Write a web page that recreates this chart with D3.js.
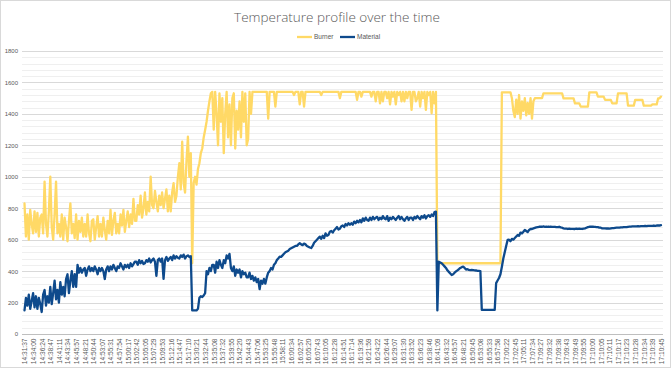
<!DOCTYPE html>
<html><head><meta charset="utf-8">
<script src="https://cdn.jsdelivr.net/npm/d3@7"></script>
<style>body{margin:0;background:#fff}svg{display:block}</style>
</head><body>
<script>
const tickLabels = [
"14:31:37","14:34:00","14:36:24","14:38:47","14:41:11","14:43:34","14:45:57","14:48:21","14:50:44","14:53:07",
"14:55:31","14:57:54","15:00:17","15:02:42","15:05:05","15:07:29","15:09:53","15:12:16","15:14:47","15:17:10",
"15:30:21","15:32:44","15:35:08","15:37:32","15:39:55","15:42:20","15:44:43","15:47:06","15:53:25","15:55:48",
"15:58:11","16:00:34","16:02:57","16:05:20","16:07:43","16:10:05","16:12:28","16:14:51","16:17:14","16:19:36",
"16:21:59","16:24:22","16:26:44","16:29:07","16:31:30","16:33:52","16:36:23","16:38:46","16:41:09","16:43:32",
"16:45:57","16:48:21","16:50:45","16:53:08","16:55:33","16:57:58","17:00:22","17:02:45","17:05:11","17:07:34",
"17:09:27","17:09:32","17:09:38","17:09:43","17:09:49","17:09:55","17:10:00","17:10:05","17:10:11","17:10:17",
"17:10:23","17:10:28","17:10:34","17:10:39","17:10:45"];

// 6 readings per labelled interval
const burner = [
830,620,760,600,790,700,
640,780,650,770,620,740,
760,640,969,700,620,780,
1001,680,600,760,969,640,
700,620,760,600,740,680,
590,720,831,640,700,610,
760,600,720,650,740,620,
700,620,760,640,590,720,
730,600,680,750,620,700,
620,740,660,600,720,640,
790,630,720,770,640,700,
640,760,690,790,650,720,
780,680,760,700,860,720,
720,820,760,880,740,800,
900,760,840,780,1001,820,
800,910,840,780,880,820,
900,800,860,920,780,880,
780,900,960,840,880,1000,
1086,920,1223,960,900,1100,
1255,1000,1150,450,960,1000,
950,1050,1086,1150,1180,1250,
1298,1350,1420,1480,1531,1540,
1300,1540,1400,1200,1531,1350,
1500,1150,1400,1540,1250,1460,
1200,1500,1531,1180,1420,1300,
1480,1250,1540,1350,1531,1200,
1240,1540,1400,1540,1540,1540,
1540,1540,1540,1540,1540,1540,
1540,1540,1370,1540,1540,1540,
1540,1446,1540,1540,1540,1540,
1540,1540,1540,1540,1540,1540,
1540,1540,1520,1540,1540,1540,
1460,1540,1540,1446,1540,1540,
1540,1540,1540,1540,1540,1540,
1540,1540,1540,1520,1540,1540,
1540,1540,1540,1540,1540,1540,
1540,1540,1540,1540,1500,1540,
1540,1540,1540,1540,1540,1540,
1540,1540,1540,1540,1489,1540,
1540,1510,1540,1540,1540,1540,
1540,1540,1510,1540,1540,1480,
1540,1540,1467,1540,1480,1540,
1540,1500,1540,1460,1540,1510,
1540,1460,1540,1520,1540,1480,
1540,1480,1540,1500,1540,1540,
1425,1540,1540,1480,1500,1540,
1446,1540,1500,1540,1425,1540,
1520,1540,1404,1540,1467,1540,
450,450,450,450,450,450,
450,450,450,450,450,450,
450,450,450,450,450,450,
450,450,450,450,450,450,
450,450,450,450,450,450,
450,450,450,450,450,450,
450,450,450,450,450,450,
450,450,450,1537,1537,1537,
1537,1537,1537,1537,1500,1420,
1380,1490,1400,1520,1370,1480,
1420,1500,1390,1470,1400,1500,
1370,1480,1500,1500,1500,1500,
1500,1500,1531,1531,1531,1531,
1531,1531,1531,1531,1531,1531,
1531,1531,1531,1531,1499,1499,
1499,1499,1499,1499,1499,1499,
1467,1467,1467,1467,1446,1446,
1446,1446,1446,1446,1537,1537,
1537,1537,1537,1537,1510,1510,
1510,1510,1510,1489,1489,1489,
1489,1489,1467,1467,1467,1467,
1531,1531,1531,1531,1531,1531,
1531,1452,1452,1452,1452,1452,
1489,1489,1489,1489,1489,1489,
1452,1452,1452,1452,1452,1452,
1460,1460,1460,1460,1499,1499,
1510];

const material = [
150,230,180,250,160,210,
260,170,240,160,230,190,
140,250,280,180,240,200,
300,190,260,340,220,280,
200,330,250,300,240,350,
380,260,340,400,300,380,
300,440,390,420,390,410,
420,370,410,430,400,420,
400,430,410,380,420,400,
420,400,350,410,430,400,
430,410,440,420,400,430,
420,450,430,410,440,425,
440,420,450,430,445,460,
460,440,470,450,465,445,
450,470,460,480,455,470,
480,460,370,470,480,460,
480,350,470,490,465,480,
490,470,500,480,495,485,
480,500,490,505,480,495,
500,490,495,150,150,150,
150,160,230,240,235,245,
260,400,380,420,400,440,
440,390,460,420,470,440,
420,470,450,500,480,510,
420,400,430,370,410,390,
410,360,400,380,390,360,
360,390,350,370,340,360,
330,350,285,340,320,350,
320,360,390,400,420,410,
440,450,470,480,492,490,
500,510,520,525,530,540,
545,550,555,560,560,570,
577,570,565,575,570,560,
555,550,547,560,580,590,
600,610,619,605,625,610,
640,625,630,650,655,645,
660,670,680,665,670,685,
690,680,700,690,705,695,
705,695,715,705,720,710,
725,710,735,720,740,725,
720,740,725,745,730,740,
745,725,740,730,750,735,
730,750,720,740,730,745,
735,725,740,750,730,745,
730,720,735,745,725,740,
740,725,745,735,750,740,
730,750,740,755,735,750,
755,745,760,750,775,778,
150,460,455,450,440,430,
420,405,395,385,375,380,
390,398,405,412,420,425,
428,420,410,412,408,406,
407,406,405,404,402,401,
400,153,153,153,153,153,
153,153,153,153,153,324,
340,356,380,428,480,520,
560,598,600,590,605,600,
610,620,630,625,645,640,
650,662,655,648,662,668,
668,672,675,678,680,682,
682,682,684,682,683,682,
682,683,682,681,682,680,
680,682,678,676,672,670,
670,668,670,668,669,668,
668,670,668,670,669,668,
670,672,676,680,682,682,
682,682,681,680,680,676,
676,672,672,672,671,672,
670,672,674,674,675,676,
676,676,678,678,680,680,
680,682,683,683,684,684,
684,684,686,685,686,686,
686,688,686,688,688,688,
688,690,688,690,691,690,
692];

const yTicks = [0,200,400,600,800,1000,1200,1400,1600,1800];
const seriesNames = ["Burner","Material"];
const seriesColors = ["#FFD966","#0E4A8C"];

const W = 671, H = 368;
const svg = d3.select("body").append("svg").attr("width", W).attr("height", H);
svg.append("rect").attr("x",0.5).attr("y",0.5).attr("width",W-1).attr("height",H-1)
  .attr("fill","#fff").attr("stroke","#d9d9d9");

const N = burner.length;
const step = (N - 1) / (tickLabels.length - 1);
const x = d3.scaleLinear().domain([0, N - 1]).range([24.5, 661]);
const y = d3.scaleLinear().domain([0, 1800]).range([334, 51]);
const gL = 22, gR = 663;

svg.append("g").selectAll("line")
  .data(d3.range(0, 1801, 40).filter(v => v % 200 !== 0))
  .join("line")
  .attr("x1", gL).attr("x2", gR)
  .attr("y1", d => Math.round(y(d)) + 0.5).attr("y2", d => Math.round(y(d)) + 0.5)
  .attr("stroke", "#efefef").attr("stroke-width", 1);

const yAxis = svg.append("g").attr("transform", `translate(${gL},0)`)
  .call(d3.axisLeft(y).tickValues(yTicks).tickFormat(d3.format("d")).tickSize(0).tickPadding(4));
yAxis.select(".domain").remove();
yAxis.selectAll("text").attr("fill", "#595959")
  .style("font-family", "Liberation Sans, Arial, sans-serif").style("font-size", "6px");
svg.append("g").selectAll("line").data(yTicks.filter(v => v > 0)).join("line")
  .attr("x1", gL).attr("x2", gR)
  .attr("y1", d => Math.round(y(d)) + 0.5).attr("y2", d => Math.round(y(d)) + 0.5)
  .attr("stroke", "#d9d9d9").attr("stroke-width", 1);

const tickIdx = d3.range(tickLabels.length).map(k => k * step);
const xAxis = svg.append("g").attr("transform", `translate(0,${Math.round(y(0)) + 0.5})`)
  .call(d3.axisBottom(x).tickValues(tickIdx).tickFormat((d, i) => tickLabels[i]).tickSize(0));
xAxis.select(".domain").attr("d", `M${gL},0H${gR}`).attr("stroke", "#bfbfbf");
xAxis.selectAll("text")
  .attr("transform", "rotate(-90)")
  .attr("x", -4).attr("y", 0).attr("dy", "0.35em")
  .style("text-anchor", "end")
  .attr("fill", "#595959")
  .style("font-family", "Liberation Sans, Arial, sans-serif").style("font-size", "6.6px");

const line = d3.line().x((d, i) => x(i)).y(d => y(d));
[burner, material].forEach((s, k) => {
  svg.append("path").datum(s).attr("d", line)
    .attr("fill", "none").attr("stroke", seriesColors[k])
    .attr("stroke-width", 2.3).attr("stroke-linejoin", "round").attr("stroke-linecap", "round");
});

svg.append("text").attr("x", 337).attr("y", 22).attr("text-anchor", "middle")
  .attr("fill", "#595959").style("font-family", "Open Sans, sans-serif")
  .style("font-weight", 300).style("font-size", "13.5px")
  .text("Temperature profile over the time");

const legX = [297, 340];
seriesNames.forEach((n, k) => {
  const g = svg.append("g").attr("transform", `translate(${legX[k]},37)`);
  g.append("line").attr("x1", 0).attr("x2", 15).attr("y1", 0).attr("y2", 0)
    .attr("stroke", seriesColors[k]).attr("stroke-width", 2.3);
  g.append("text").attr("x", 17).attr("y", 0).attr("dy", "0.35em")
    .attr("fill", "#595959").style("font-family", "Liberation Sans, Arial, sans-serif")
    .style("font-size", "6.5px").text(n);
});
</script>
</body></html>
